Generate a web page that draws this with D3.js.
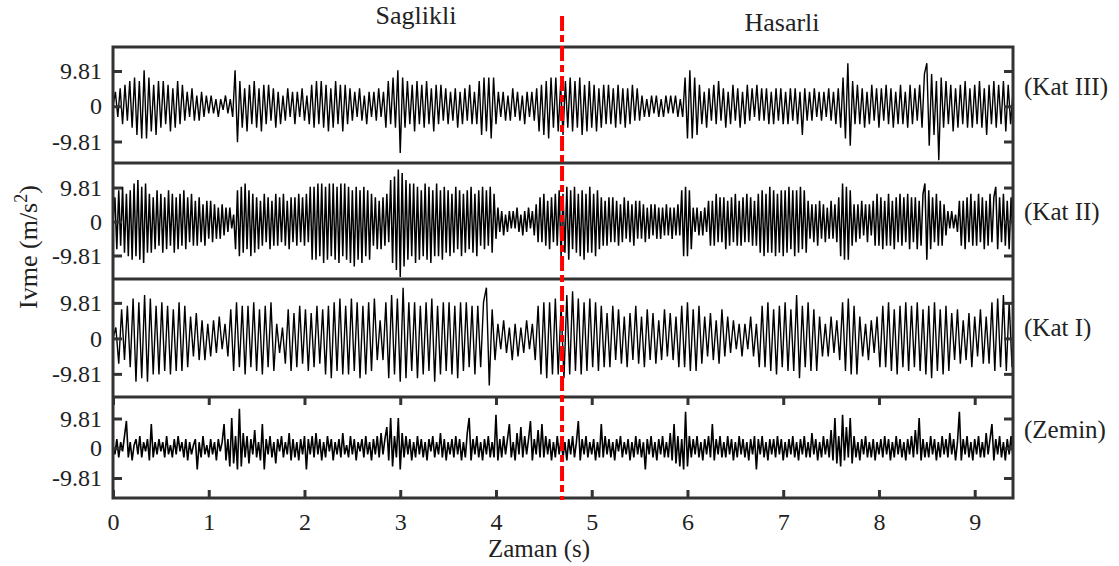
<!DOCTYPE html>
<html>
<head>
<meta charset="utf-8">
<script src="https://cdn.jsdelivr.net/npm/d3@7"></script>
<style>
  body { margin: 0; background: #fff; }
  svg text { font-family: "Liberation Serif", "DejaVu Serif", "Times New Roman", Times, serif !important; fill: #222; }
</style>
</head>
<body>
<svg id="chart" width="1119" height="566"></svg>
<script>
// ---- data ----
const timeTicks = [0, 1, 2, 3, 4, 5, 6, 7, 8, 9];
const accelTicks = [-9.81, 0, 9.81];
const accelTickLabels = ["-9.81", "0", "9.81"];
const floorNames = ["(Kat III)", "(Kat II)", "(Kat I)", "(Zemin)"];
const phaseNames = ["Saglikli", "Hasarli"];
const damageTime = 4.69;           // s, start of the damaged state
const sampleSteps = [0.025, 0.02, 0.03, 0.02]; // s between samples, per floor

// acceleration records (m/s^2), one value per sample step
const katIII = [
  0,4,-3,5,-5,6,-4,7,-6,8,-8,7,-9,10,-9,8,-7,6,-8,7,
  -6,7,-5,6,-7,5,-6,7,-5,6,-4,4,-3,5,-4,3,-4,4,-3,3,
  -2,3,-2,2,-3,2,-1,3,-2,2,-3,10,-10,7,-6,5,-7,6,-5,7,
  -6,5,-7,6,-5,6,-4,5,-6,4,-5,3,-4,5,-3,4,-5,4,-3,5,
  -4,3,-5,6,-6,7,-5,7,-6,6,-7,5,-6,7,-5,6,-7,6,-5,5,
  -4,4,-3,5,-4,3,-5,4,-3,4,-4,5,-3,4,-6,7,-5,8,-6,10,
  -13,8,-6,7,-5,6,-7,7,-5,6,-6,7,-5,5,-7,6,-5,6,-4,5,
  -5,4,-4,5,-6,4,-5,5,-4,6,-5,4,-5,7,-8,8,-7,8,-9,8,
  -5,4,-3,4,-4,3,-4,5,-3,4,-4,3,-5,4,-3,4,-4,5,-7,6,
  -8,7,-9,8,-6,8,-7,6,-8,7,-6,8,-7,7,-6,8,-8,6,-7,7,
  -6,6,-7,5,-6,6,-5,6,-5,5,-6,6,-5,5,-6,5,-5,6,-4,5,
  -4,3,-3,2,-3,3,-2,3,-3,2,-3,3,-2,3,-2,3,-3,2,-3,8,
  -9,10,-9,8,-8,6,-5,4,-6,5,-4,6,-5,7,-4,5,-6,4,-5,6,
  -4,5,-6,4,-5,6,-4,5,-3,6,-4,5,-4,5,-5,4,-5,5,-4,5,
  -5,4,-5,5,-4,5,-5,4,-8,5,-4,4,-4,5,-3,4,-4,4,-3,5,
  -4,4,-5,5,-6,8,-9,12,-11,7,-5,6,-5,5,-6,4,-5,6,-4,5,
  -6,5,-4,6,-5,5,-6,4,-5,6,-5,4,-6,6,-5,5,-4,6,-6,9,
  12,-11,9,-8,7,-15,8,-6,7,-5,6,-7,5,-6,6,-5,7,-6,5,-6,
  6,-5,7,-6,5,-8,6,-5,7,-6,6,-5,7,-7,6,-5,4
];
const katII = [
  0,7,-8,9,-7,10,-9,8,-10,9,-11,11,-10,12,-11,10,-12,11,-9,8,-9,7,-8,9,-7,
  8,-9,7,-8,9,-7,8,-9,7,-8,8,-7,9,-8,7,-6,8,-7,6,-7,7,-6,5,-7,6,
  -5,6,-6,5,-5,4,-5,5,-4,4,-3,4,-2,2,-8,9,-10,10,-9,11,-8,9,-10,8,-9,
  7,-8,6,-7,8,-6,7,-8,6,-7,8,-7,7,-6,8,-7,6,-8,7,-6,7,-7,8,-6,7,
  -7,8,-6,10,-11,10,-11,11,-10,11,-12,10,-11,11,-10,11,-11,10,-12,11,-10,11,-11,10,-12,
  9,-13,10,-11,9,-12,10,-10,9,-11,8,-7,7,-8,6,-8,7,-7,8,-6,12,-12,13,-14,15,
  -16,14,-13,12,-11,11,-10,11,-12,10,-11,9,-10,11,-11,10,-12,9,-10,11,-10,9,-11,10,-9,
  9,-10,8,-9,10,-8,9,-10,8,-9,9,-8,10,-9,8,-10,9,-7,10,-8,9,-7,10,-9,8,
  -5,4,-3,3,-4,2,-3,3,-2,3,-2,4,-3,2,-4,3,-3,4,-2,3,-4,5,-6,7,-6,
  8,-7,6,-8,7,-6,8,-7,9,-10,8,-9,10,-11,9,-8,10,-9,8,-10,9,-11,8,-9,10,
  -9,8,-10,9,-8,7,-7,6,-7,7,-6,7,-6,6,-7,5,-6,7,-5,6,-6,5,-7,6,-5,
  6,-5,5,-6,4,-5,5,-4,5,-5,4,-5,4,-4,5,-4,4,-5,4,-4,5,-4,9,-10,10,
  -10,9,-8,4,-3,4,-4,3,-4,4,-3,6,-7,6,-7,8,-6,7,-6,7,-8,6,-7,7,-6,
  8,-7,6,-7,7,-6,8,-6,7,-7,6,-7,8,-9,9,-10,8,-9,10,-9,9,-10,8,-9,9,
  -10,9,-9,10,-8,9,-10,9,-9,10,-8,9,-9,6,-5,5,-6,5,-7,6,-5,5,-6,4,-5,
  6,-5,5,-6,7,-10,11,-11,10,-11,9,-7,5,-6,5,-5,6,-4,5,-6,5,-4,6,-7,8,
  -7,7,-8,6,-7,8,-7,6,-8,7,-6,8,-7,7,-6,8,-8,7,-6,7,-8,6,-7,8,11,
  -11,9,-8,7,-6,8,-7,6,-7,5,-4,3,-2,3,-2,2,-3,6,-7,6,-8,7,-6,8,-7,
  6,-7,8,-6,7,-8,6,-7,8,-6,7,10,-8,7,-6,8,-7,6,-8,7,-5
];
const katI = [
  0,3,-7,8,-6,9,-8,11,-12,10,-11,12,-12,11,-10,9,-10,
  10,-9,9,-10,8,-9,10,-9,9,-8,6,-5,7,-6,5,-6,4,
  -5,5,-4,6,-3,4,-5,8,-9,10,-8,9,-10,9,-8,10,
  -9,8,-10,9,-8,10,-9,4,-4,3,-7,8,-9,7,-8,9,-7,
  8,-9,7,-8,9,-7,8,-10,9,-11,10,-9,11,-10,9,-10,11,
  -9,10,-11,9,-10,10,-9,11,-6,5,-6,10,-11,12,-10,11,-12,
  14,-11,10,-9,10,-11,9,-10,10,-9,11,-12,9,-10,10,-9,10,
  -10,9,-11,10,-9,10,-8,9,-10,9,-8,10,14,-13,8,-6,4,
  -3,5,-4,3,-6,4,-5,3,-4,5,-3,4,-6,9,-10,10,-11,
  10,-10,11,-10,9,-11,12,-10,13,-9,11,-10,10,-9,11,-8,10,
  -9,9,-8,7,-8,9,-6,8,-7,6,-8,7,-6,9,-7,6,-8,
  8,-6,7,-7,5,-6,8,-5,7,-6,6,-8,9,-8,10,-9,8,
  -9,9,-7,6,-5,7,-6,5,-7,8,-5,6,-4,5,-3,4,-5,
  4,-3,6,-5,4,-8,9,-8,10,-9,8,-10,9,-8,10,-9,8,
  -9,12,-11,9,-8,10,-9,8,-9,6,-5,4,-5,6,-4,5,-6,
  10,-9,11,-10,9,-10,6,-5,4,-6,5,-4,6,-8,9,-8,10,
  -9,8,-10,9,-8,10,-9,9,-8,10,-9,8,-10,9,-11,10,-9,
  8,-10,9,-9,7,-6,8,-7,5,-6,7,-8,6,-5,8,-7,6,
  -7,10,-9,11,-8,12,-9,10,-8
];
const zemin = [
  1,-2,3,-3,2,-1,4,9,-3,2,-4,1,3,-2,4,-3,2,-1,3,-4,8,-3,2,-2,3,
  -1,2,-3,4,-2,1,-3,3,-2,4,-1,2,-3,3,-4,2,-2,1,3,-7,2,-3,4,-2,1,
  -3,3,-2,2,-4,3,-1,2,8,-4,3,-6,10,-5,4,-7,13,-6,5,-3,4,-5,3,-2,6,
  -3,2,-4,8,-7,3,-2,4,-3,2,-5,3,-1,4,-3,2,-2,5,-4,3,-3,2,-4,3,-2,
  4,-7,3,-2,4,-3,5,-2,3,-4,2,-3,4,-1,3,-4,2,-2,3,-3,5,-2,1,-3,4,
  -2,3,-4,2,-1,3,-3,4,-2,2,-4,3,-2,4,-3,5,-2,3,7,-4,10,-6,4,-3,10,
  -7,5,-3,4,-2,3,-4,2,-3,4,-2,3,-3,2,-4,3,-1,4,-3,2,-2,5,-3,3,-4,
  2,-2,3,-3,4,-2,3,-4,2,-3,5,10,-4,3,-2,4,-3,2,-4,3,-2,4,-3,2,-3,
  11,-4,3,-3,4,-2,3,8,-3,2,-4,5,-2,7,-3,4,-2,3,9,-4,3,-2,6,-3,8,
  -3,4,-2,3,-4,2,-3,4,-2,3,-3,2,-4,3,-2,4,-3,2,9,-4,3,-2,4,-3,2,
  -2,3,-4,2,-3,8,-3,4,-2,3,-3,2,-4,3,-1,4,-3,2,-2,3,-4,2,-3,4,-2,
  3,-3,2,-7,3,-2,4,-3,2,-4,3,-2,4,-3,2,-3,5,-4,8,-5,4,-6,3,-7,12,
  -6,4,-3,3,-2,4,-3,2,-4,3,-2,4,-3,8,-4,3,-2,4,-3,2,-3,4,-2,3,-4,
  2,-3,4,-2,3,-3,2,-4,3,-2,4,-7,3,-2,4,-3,2,-4,3,-2,3,-3,4,-2,3,
  -4,2,-3,3,-2,4,-3,2,-4,3,-2,4,-3,2,-3,5,-2,3,-4,2,-3,4,-2,3,-3,
  6,-4,10,-5,4,-6,11,-4,7,-3,10,-5,4,-3,2,-4,3,-2,4,-3,2,-3,3,-4,2,
  -2,3,-3,4,-2,3,-4,2,-3,4,-2,3,-3,2,-4,3,-2,4,-3,6,-2,10,-4,3,-3,
  2,-3,4,-2,3,-4,2,-3,4,-2,3,-3,5,-2,3,-4,2,12,-4,3,-2,4,-3,2,-4,
  3,-2,4,-3,2,-3,5,-2,3,8,-4,3,-2,4,-3,2,-4,3,-2,4,-3
];
const records = [katIII, katII, katI, zemin];

// ---- layout ----
const left = 113, right = 1013;
const panelTop = [47, 163, 279, 397];
const panelBottom = [163, 279, 397, 498];
const panelDomain = [[-15.8, 16.5], [-16.6, 16.9], [-16.2, 16.4], [-16.4, 16.9]];
const nameBaseline = [94.5, 220, 336, 437.5];
const traceWidth = [1.4, 1.5, 1.4, 1.6];
const frameColor = "#333";
const serif = '"Liberation Serif", "DejaVu Serif", "Times New Roman", Times, serif';

const svg = d3.select("#chart");
const x = d3.scaleLinear().domain([0, 9.4]).range([left, right]);

const defs = svg.append("defs");

function styleText(sel, size) {
  sel.attr("font-family", serif).style("font-family", serif)
     .style("font-size", size).attr("fill", "#222");
  return sel;
}

records.forEach((vals, k) => {
  const y = d3.scaleLinear().domain(panelDomain[k]).range([panelBottom[k], panelTop[k]]);
  const dt = sampleSteps[k];
  const g = svg.append("g").attr("class", "panel");

  defs.append("clipPath").attr("id", "clip" + k)
    .append("rect")
    .attr("x", left).attr("y", panelTop[k])
    .attr("width", right - left).attr("height", panelBottom[k] - panelTop[k]);

  const line = d3.line().x((d, i) => x(i * dt)).y(d => y(d));
  g.append("path")
    .datum(vals)
    .attr("clip-path", "url(#clip" + k + ")")
    .attr("fill", "none")
    .attr("stroke", "#000")
    .attr("stroke-width", traceWidth[k])
    .attr("d", line);

  // left axis with labels, ticks pointing inward
  const ax = g.append("g").attr("transform", `translate(${left},0)`)
    .call(d3.axisLeft(y).tickValues(accelTicks).tickSize(-9).tickPadding(11)
      .tickFormat((d, i) => accelTickLabels[i]));
  ax.attr("font-family", serif);
  ax.select(".domain").remove();
  ax.selectAll(".tick line").attr("stroke", frameColor).attr("stroke-width", 3);
  styleText(ax.selectAll(".tick text"), "24px");

  // right axis, ticks only
  const axr = g.append("g").attr("transform", `translate(${right},0)`)
    .call(d3.axisRight(y).tickValues(accelTicks).tickSize(-9).tickFormat(""));
  axr.select(".domain").remove();
  axr.selectAll(".tick line").attr("stroke", frameColor).attr("stroke-width", 3);

  // floor name
  styleText(svg.append("text")
    .attr("x", 1024).attr("y", nameBaseline[k])
    .text(floorNames[k]), "25px");
});

// time axis on the ground-floor panel (bottom and top edges)
const xb = svg.append("g").attr("transform", `translate(0,${panelBottom[3]})`)
  .call(d3.axisBottom(x).tickValues(timeTicks).tickSize(-8).tickPadding(15).tickFormat(d3.format("d")));
xb.attr("font-family", serif);
xb.select(".domain").remove();
xb.selectAll(".tick line").attr("stroke", frameColor).attr("stroke-width", 3);
styleText(xb.selectAll(".tick text"), "24px");

const xt = svg.append("g").attr("transform", `translate(0,${panelTop[3]})`)
  .call(d3.axisTop(x).tickValues(timeTicks).tickSize(-8).tickFormat(""));
xt.select(".domain").remove();
xt.selectAll(".tick line").attr("stroke", frameColor).attr("stroke-width", 3);

// frame and panel separators
svg.append("rect")
  .attr("x", left).attr("y", panelTop[0])
  .attr("width", right - left).attr("height", panelBottom[3] - panelTop[0])
  .attr("fill", "none").attr("stroke", frameColor).attr("stroke-width", 3);
panelTop.slice(1).forEach(yy => {
  svg.append("line")
    .attr("x1", left).attr("x2", right).attr("y1", yy).attr("y2", yy)
    .attr("stroke", frameColor).attr("stroke-width", 3);
});

// damage onset marker
svg.append("line")
  .attr("x1", x(damageTime)).attr("x2", x(damageTime))
  .attr("y1", 16).attr("y2", 500)
  .attr("stroke", "#ff0000").attr("stroke-width", 4)
  .attr("stroke-dasharray", "15,4,7,4");

// phase titles
styleText(svg.append("text").attr("x", 416).attr("y", 24).attr("text-anchor", "middle")
  .text(phaseNames[0]), "26px");
styleText(svg.append("text").attr("x", 782).attr("y", 31).attr("text-anchor", "middle")
  .text(phaseNames[1]), "26px");

// axis titles
styleText(svg.append("text").attr("x", 539).attr("y", 557).attr("text-anchor", "middle")
  .text("Zaman (s)"), "25px");

const yt = styleText(svg.append("text")
  .attr("transform", "translate(37,247) rotate(-90)")
  .attr("text-anchor", "middle"), "26px");
yt.append("tspan").text("Ivme (m/s");
yt.append("tspan").attr("dy", -10).style("font-size", "18px").text("2");
yt.append("tspan").attr("dy", 10).text(")");
</script>
</body>
</html>
